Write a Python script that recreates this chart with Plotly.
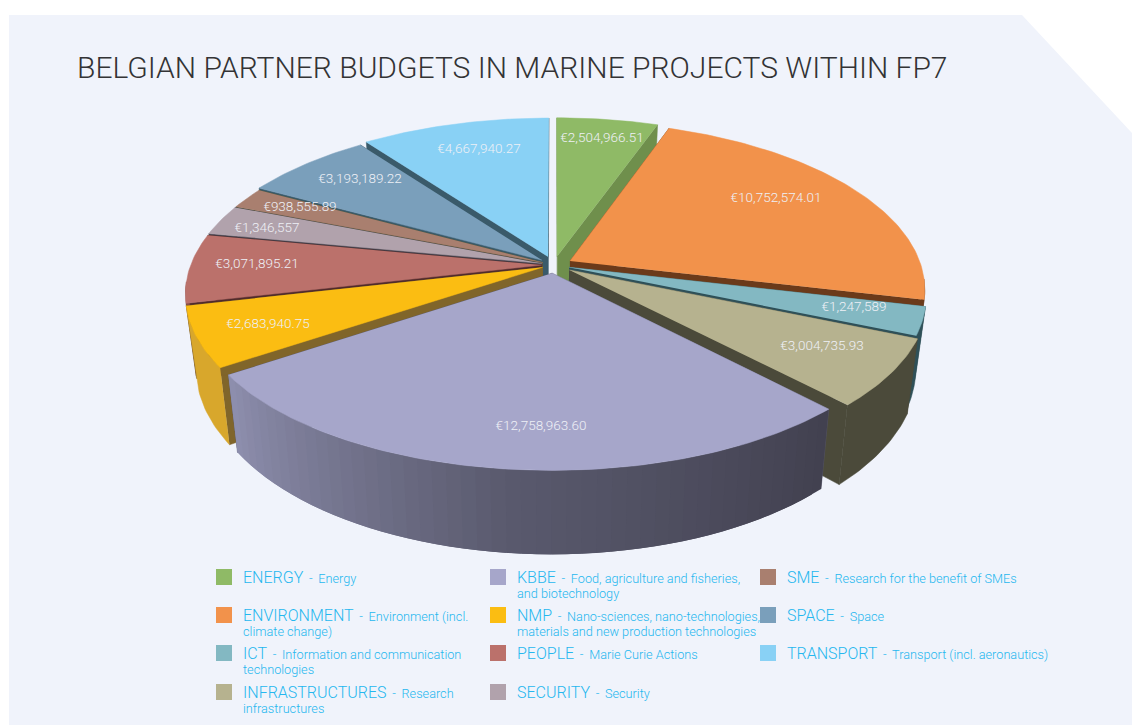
import math
import plotly.graph_objects as go

# ---------- data ----------
TITLE = "BELGIAN PARTNER BUDGETS IN MARINE PROJECTS WITHIN FP7"
categories = ["ENERGY", "ENVIRONMENT", "ICT", "INFRASTRUCTURES", "KBBE", "NMP",
              "PEOPLE", "SECURITY", "SME", "SPACE", "TRANSPORT"]
values = [2504966.51, 10752574.01, 1247589, 3004735.93, 12758963.60, 2683940.75,
          3071895.21, 1346557, 938555.89, 3193189.22, 4667940.27]
desc_line1 = ["Energy", "Environment (incl.", "Information and communication", "Research",
              "Food, agriculture and fisheries,", "Nano-sciences, nano-technologies,",
              "Marie Curie Actions", "Security", "Research for the benefit of SMEs",
              "Space", "Transport (incl. aeronautics)"]
desc_line2 = ["", "climate change)", "technologies", "infrastructures", "and biotechnology",
              "materials and new production technologies", "", "", "", "", ""]

# ---------- styles ----------
top_colors = ["#8fba66", "#f2924b", "#83b8c2", "#b6b28f", "#a6a6ca", "#fbbd12",
              "#bb716b", "#b1a2ac", "#a97f6f", "#7a9fbb", "#89d1f5"]
wall_colors = ["#6f8f4c", "#6b3a1a", "#2f5058", "#4b4a3a", "#5a5a6e", "#80652a",
               "#4f2a2a", "#45404a", "#5d5c3a", "#3a5a6a", "#3a5a6a"]
arc_colors = ["#6f8f4c", "#6b3a1a", "#2f5058", "#4b4a3a", None, "#d8a72c",
              "#8a4f4a", "#7c707a", "#7a5a4d", "#3a5a6a", "#3a5a6a"]
KBBE_ARC = [(0.0, (65, 64, 79)), (0.5, (90, 90, 110)), (1.0, (142, 143, 174))]
explode = [0.055, 0.052, 0.045, 0.053, 0.05, 0.035, 0.035, 0.035, 0.035, 0.045, 0.055]
label_xy = [(602, 139), (776, 199), (854, 308), (822, 347), (541, 427), (268, 325),
            (257, 265), (267, 229), (300, 208), (360, 180), (479, 150)]
legend_cols = [224, 498, 768]
legend_rows = [577, 615, 653, 692]
legend_slots = [(0, 0), (0, 1), (0, 2), (0, 3), (1, 0), (1, 1), (1, 2), (1, 3), (2, 0), (2, 1), (2, 2)]
PANEL = "#f0f3fb"
LEG_TXT = "#25b7ef"
FONT = "Roboto"
WEIGHT = 300

# projection of the pie disc onto the page
CX, CY, A, B, KX, KY, H, WALL_S = 554, 265, 351, 163, 0.165, 0.159, 70, 0.972


def project(x, y, z=0.0):
    dx = 1 + KX * y
    dy = 1 + KY * y
    sx = CX + A * x / dx
    sy = CY - B * y / dy
    if z:
        sx = CX + (sx - CX) * (1 - (1 - WALL_S) * z)
        sy = sy + H * z / dy
    return sx, sy


total = sum(values)
spans = []
a0 = 0.0
for v in values:
    a1 = a0 + 360.0 * v / total
    spans.append((a0, a1))
    a0 = a1


def disc_pt(i, ang, r=1.0):
    mid = math.radians(sum(spans[i]) / 2)
    t = math.radians(ang)
    return r * math.sin(t) + explode[i] * math.sin(mid), r * math.cos(t) + explode[i] * math.cos(mid)


def poly(pts, color, lw=0.5):
    return go.Scatter(x=[p[0] for p in pts], y=[p[1] for p in pts], mode="lines", fill="toself",
                      fillcolor=color, line=dict(color=color, width=lw), hoverinfo="skip",
                      showlegend=False)


def mix(stops, t):
    for (t0, c0), (t1, c1) in zip(stops, stops[1:]):
        if t <= t1:
            f = (t - t0) / (t1 - t0)
            return "rgb(%d,%d,%d)" % tuple(round(a + (b - a) * f) for a, b in zip(c0, c1))
    return "rgb(%d,%d,%d)" % stops[-1][1]


fig = go.Figure()
order = sorted(range(len(values)), key=lambda i: -math.cos(math.radians(sum(spans[i]) / 2)))
for i in order:
    s, e = spans[i]
    n = max(8, int((e - s) / 1.0))
    angs = [s + (e - s) * j / n for j in range(n + 1)]
    apex = disc_pt(i, s, 0.0)
    # radial cut faces
    for ang in (s, e):
        out = disc_pt(i, ang)
        fig.add_trace(poly([project(*apex), project(*out), project(*out, 1), project(*apex, 1)], wall_colors[i]))
    # rim, only the front-facing part
    front = [a for a in angs if math.cos(math.radians(a)) < -0.1]
    if arc_colors[i] and len(front) > 1:
        rim = [project(*disc_pt(i, a)) for a in front] + [project(*disc_pt(i, a), 1) for a in reversed(front)]
        fig.add_trace(poly(rim, arc_colors[i]))
    elif not arc_colors[i]:
        strips = 48
        for j in range(strips):
            a_l = s + (e - s) * j / strips
            a_r = min(e, s + (e - s) * (j + 2) / strips)
            pa, pb = disc_pt(i, a_l), disc_pt(i, a_r)
            fig.add_trace(poly([project(*pa), project(*pb), project(*pb, 1), project(*pa, 1)],
                               mix(KBBE_ARC, (j + 0.5) / strips), lw=0))
    # top face
    top = [project(*apex)] + [project(*disc_pt(i, a)) for a in angs]
    fig.add_trace(poly(top, top_colors[i]))

# value labels
texts = [f"€{v:,.2f}" if v % 1 else f"€{v:,.0f}" for v in values]
fig.add_trace(go.Scatter(x=[p[0] for p in label_xy], y=[p[1] for p in label_xy], mode="text", text=texts,
                         textposition="middle center",
                         textfont=dict(family=FONT, size=13.5, color="#eef0f6", weight=WEIGHT),
                         hoverinfo="skip", showlegend=False))

# legend swatches and text
fig.add_trace(go.Scatter(x=[legend_cols[c] for c, r in legend_slots], y=[legend_rows[r] for c, r in legend_slots],
                         mode="markers", marker=dict(symbol="square", size=16, color=top_colors, line=dict(width=0)),
                         hoverinfo="skip", showlegend=False))
annotations = [dict(x=75, y=67, text=TITLE, showarrow=False, xanchor="left", yanchor="middle",
                    font=dict(family=FONT, size=30, color="#333335", weight=WEIGHT), xref="x", yref="y")]
for i, (c, r) in enumerate(legend_slots):
    tx = legend_cols[c] + 17
    ty = legend_rows[r]
    annotations.append(dict(x=tx, y=ty, xref="x", yref="y", showarrow=False, xanchor="left", yanchor="middle",
                            text=f"<span style='font-size:16px'>{categories[i]}</span>\u2009 -\u2009 {desc_line1[i]}",
                            font=dict(family=FONT, size=12.7, color=LEG_TXT, weight=WEIGHT)))
    if desc_line2[i]:
        annotations.append(dict(x=tx, y=ty + 16, xref="x", yref="y", showarrow=False, xanchor="left",
                                yanchor="middle", text=desc_line2[i],
                                font=dict(family=FONT, size=12.7, color=LEG_TXT, weight=WEIGHT)))

fig.update_layout(
    width=1132, height=725, margin=dict(l=0, r=0, t=0, b=0), paper_bgcolor="white", plot_bgcolor="white",
    showlegend=False, annotations=annotations,
    xaxis=dict(range=[0, 1132], visible=False, fixedrange=True),
    yaxis=dict(range=[725, 0], visible=False, fixedrange=True),
    shapes=[dict(type="path", path="M 9 15 L 1022 15 L 1132 133 L 1132 725 L 9 725 Z", fillcolor=PANEL,
                 line=dict(width=0), layer="below", xref="x", yref="y")],
)
fig.write_html("out.html", config={"displayModeBar": False},
               post_script="document.body.style.margin='0';document.body.style.overflow='hidden';")
